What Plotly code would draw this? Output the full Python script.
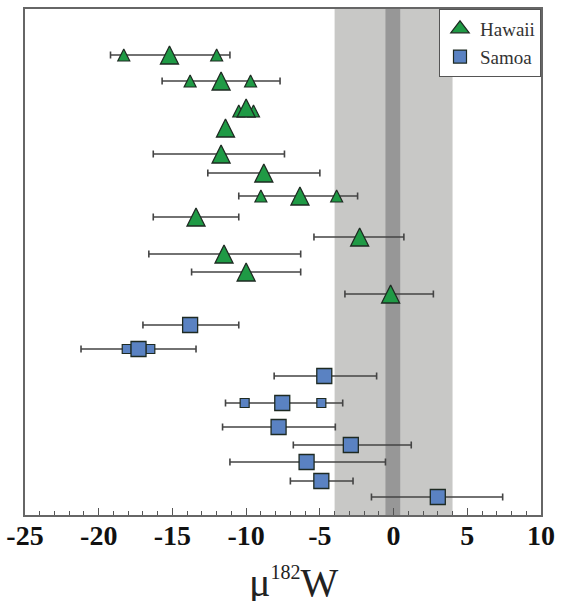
import plotly.graph_objects as go

# ---- data ----
# vertical position of each sample row (top = 0)
hawaii_pos = [4.6, 7.2, 9.9, 11.9, 14.5, 16.4, 18.7, 20.8, 22.8, 24.5, 26.3, 28.5]
hawaii_mu = [-15.2, -11.7, -10.0, -11.4, -11.7, -8.8, -6.35, -13.4, -2.3, -11.5, -10.0, -0.2]
hawaii_lo = [-19.2, -15.7, None, None, -16.3, -12.6, -10.5, -16.3, -5.4, -16.6, -13.7, -3.3]
hawaii_hi = [-11.1, -7.7, None, None, -7.4, -5.0, -2.44, -10.5, 0.7, -6.3, -6.3, 2.7]

hawaii_small_pos = [4.6, 4.6, 7.2, 7.2, 10.2, 10.2, 18.7, 18.7]
hawaii_small_mu = [-18.3, -12.0, -13.8, -9.7, -10.5, -9.5, -9.0, -3.86]

samoa_pos = [31.6, 34.0, 36.7, 39.4, 41.8, 43.6, 45.3, 47.2, 48.8]
samoa_mu = [-13.8, -17.3, -4.7, -7.55, -7.8, -2.9, -5.9, -4.9, 3.0]
samoa_lo = [-17.0, -21.2, -8.1, -11.4, -11.6, -6.8, -11.1, -7.0, -1.5]
samoa_hi = [-10.5, -13.4, -1.15, -3.45, -3.95, 1.2, -0.55, -2.75, 7.4]

samoa_small_pos = [34.0, 34.0, 39.4, 39.4]
samoa_small_mu = [-18.1, -16.5, -10.1, -4.9]

# reference bands
outer_band = [-4.0, 4.0]
inner_band = [-0.55, 0.45]

x_ticks = [-25, -20, -15, -10, -5, 0, 5, 10]

GREEN = "#1f9a45"
BLUE = "#5a82c2"
EDGE = "#1e2a22"
BAR = "#444444"
SERIF = "Liberation Serif, Times New Roman, serif"


def err_parts(mu, lo, hi):
    plus = [None if h is None else h - m for m, h in zip(mu, hi)]
    minus = [None if l is None else m - l for m, l in zip(mu, lo)]
    return plus, minus


fig = go.Figure()

# legend-only entries
fig.add_trace(go.Scatter(
    x=[None], y=[None], mode="markers", name="Hawaii",
    marker=dict(symbol="triangle-up", size=16, color=GREEN, line=dict(color=EDGE, width=1.2))))
fig.add_trace(go.Scatter(
    x=[None], y=[None], mode="markers", name="Samoa",
    marker=dict(symbol="square", size=13, color=BLUE, line=dict(color=EDGE, width=1.2))))

# error bars only (drawn first, under all markers)
for pos, mu, lo, hi in [(hawaii_pos, hawaii_mu, hawaii_lo, hawaii_hi),
                        (samoa_pos, samoa_mu, samoa_lo, samoa_hi)]:
    plus, minus = err_parts(mu, lo, hi)
    fig.add_trace(go.Scatter(
        x=mu, y=pos, mode="markers",
        marker=dict(size=1, color="rgba(0,0,0,0)"),
        error_x=dict(type="data", symmetric=False, array=plus, arrayminus=minus,
                     color=BAR, thickness=1.6, width=3.5),
        showlegend=False, hoverinfo="skip"))

# small markers
fig.add_trace(go.Scatter(
    x=hawaii_small_mu, y=hawaii_small_pos, mode="markers",
    marker=dict(symbol="arrow-down", angle=180, standoff=6, size=12,
                color=GREEN, line=dict(color=EDGE, width=1.2)),
    showlegend=False))
fig.add_trace(go.Scatter(
    x=samoa_small_mu, y=samoa_small_pos, mode="markers",
    marker=dict(symbol="square", size=9, color=BLUE, line=dict(color=EDGE, width=1.2)),
    showlegend=False))

# main markers
fig.add_trace(go.Scatter(
    x=hawaii_mu, y=hawaii_pos, mode="markers", name="Hawaii",
    marker=dict(symbol="arrow-down", angle=180, standoff=9, size=18,
                color=GREEN, line=dict(color=EDGE, width=1.3)),
    showlegend=False))
fig.add_trace(go.Scatter(
    x=samoa_mu, y=samoa_pos, mode="markers", name="Samoa",
    marker=dict(symbol="square", size=15, color=BLUE, line=dict(color=EDGE, width=1.3)),
    showlegend=False))

fig.add_vrect(x0=outer_band[0], x1=outer_band[1], fillcolor="#c8c8c6",
              line_width=0, layer="below")
fig.add_vrect(x0=inner_band[0], x1=inner_band[1], fillcolor="#979797",
              line_width=0, layer="below")

fig.add_annotation(
    text="μ<sup><span style='font-size:20px'>182</span></sup>W",
    xref="paper", yref="paper", x=0.52, y=-0.085, xanchor="center", yanchor="top",
    showarrow=False, font=dict(family=SERIF, size=40, color="#222"))

fig.update_layout(
    width=564, height=601,
    margin=dict(l=25, r=23, t=9, b=86),
    paper_bgcolor="white", plot_bgcolor="white",
    font=dict(family=SERIF, color="#111"),
    showlegend=True,
    legend=dict(x=1, y=1, xanchor="right", yanchor="top",
                bgcolor="white", bordercolor="#555", borderwidth=1,
                font=dict(family=SERIF, size=19, color="#333"),
                itemwidth=30, tracegroupgap=0),
    xaxis=dict(range=[-25, 10], tickvals=x_ticks,
               ticktext=[str(v) for v in x_ticks],
               ticks="inside", ticklen=7, tickwidth=1.2, tickcolor="#555",
               minor=dict(dtick=1, ticks="inside", ticklen=4, tickwidth=1, tickcolor="#555"),
               showline=True, linecolor="#666", linewidth=1.5, mirror=True,
               showgrid=False, zeroline=False, automargin=False,
               ticklabelstandoff=-5, ticklabeloverflow="allow",
               tickfont=dict(family=SERIF, size=28, color="#111", weight="bold")),
    yaxis=dict(range=[50.6, 0], showticklabels=False, ticks="",
               showline=True, linecolor="#666", linewidth=1.5, mirror=True,
               showgrid=False, zeroline=False, automargin=False),
)

# remove the default page margin so the 564x601 figure fills the window exactly
fig.write_html("out.html", config={"displayModeBar": False},
               post_script="document.body.style.margin='0';")
